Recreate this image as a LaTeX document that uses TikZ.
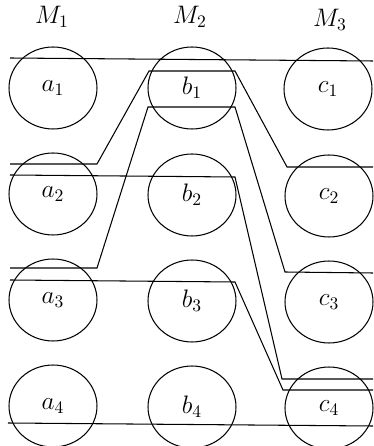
\documentclass[tikz,border=0pt]{standalone}
\usepackage{amsmath}
\usepackage{tikz}
\usetikzlibrary{shapes.geometric,calc}

\begin{document}
\begin{tikzpicture}[
    x=0.02cm, y=0.02cm,
    every node/.style={inner sep=2pt},
    cab/.style={font=\Large},
    maq/.style={draw, ellipse, line width=0.6pt, minimum width=1.76cm,
        minimum height=1.64cm, font=\Large},
    ruta/.style={line width=0.6pt}
]
\useasboundingbox (0,0) rectangle (374,446);

% Cabeceras
\node[cab] (M1) at (52,429) {$M_1$};
\node[cab] (M2) at (190,429) {$M_2$};
\node[cab] (M3) at (330,426) {$M_3$};

% Primera fila
\node[maq] (a1) at (53,358) {$a_1$};
\node[maq] (b1) at (192,358) {$b_1$};
\node[maq] (c1) at (328,357) {$c_1$};

% Segunda fila
\node[maq] (a2) at (53,252) {$a_2$};
\node[maq] (b2) at (192,251) {$b_2$};
\node[maq] (c2) at (329,250) {$c_2$};

% Tercera fila
\node[maq] (a3) at (53,146) {$a_3$};
\node[maq] (b3) at (192,145) {$b_3$};
\node[maq] (c3) at (329,144) {$c_3$};

% Cuarta fila
\node[maq] (a4) at (53,40) {$a_4$};
\node[maq] (b4) at (192,39) {$b_4$};
\node[maq] (c4) at (329,38) {$c_4$};

% Extremos de las rutas
\coordinate (i1) at (10,388);
\coordinate (o1) at (373,385);
\coordinate (i2) at (10,282);
\coordinate (o2) at (373,279);
\coordinate (i3) at (10,271);
\coordinate (o3) at (373,67);
\coordinate (i4) at (10,178);
\coordinate (o4) at (373,173);
\coordinate (i5) at (10,166);
\coordinate (o5) at (373,56);
\coordinate (i6) at (8,23);
\coordinate (o6) at (373,20);

% Rutas
\draw[ruta] (i1) -- (o1);
\draw[ruta] (i2) -- ($(a2)+(44,30)$) -- ($(b1)+(-43,17)$)
    -- ($(b1)+(43,17)$) -- ($(c2)+(-42,29)$) -- (o2);
\draw[ruta] (i3) -- ($(b2)+(43,18)$) -- ($(c4)+(-47,29)$) -- (o3);
\draw[ruta] (i4) -- ($(a3)+(44,32)$) -- ($(b1)+(-44,-19)$)
    -- ($(b1)+(43,-19)$) -- ($(c3)+(-44,30)$) -- (o4);
\draw[ruta] (i5) -- ($(b3)+(43,19)$) -- ($(c4)+(-46,18)$) -- (o5);
\draw[ruta] (i6) -- (o6);

\end{tikzpicture}
\end{document}
